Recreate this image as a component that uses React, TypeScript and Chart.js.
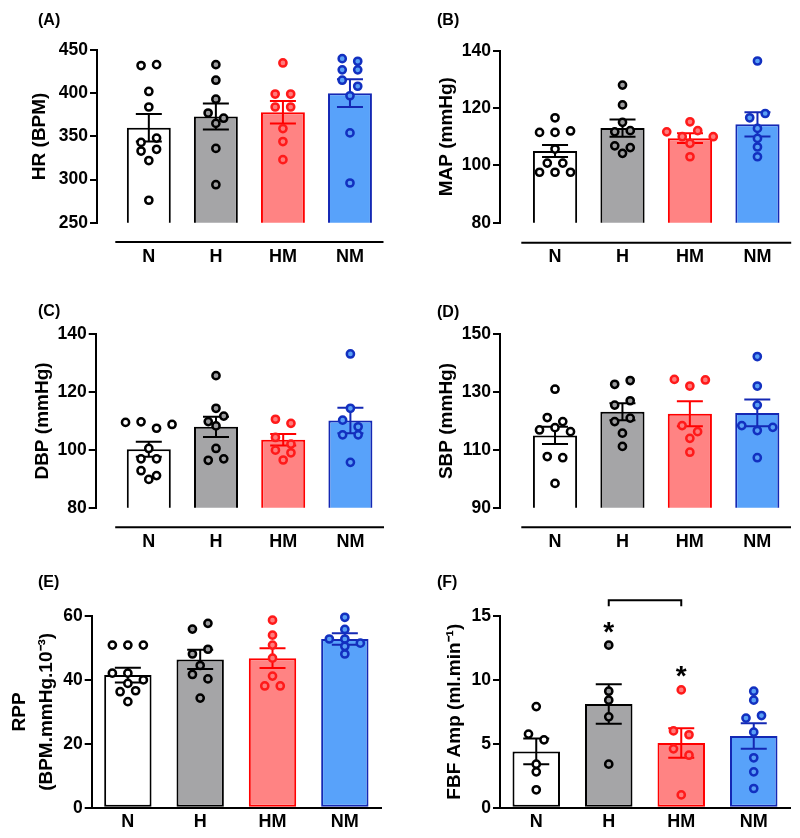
import React, { useEffect, useRef } from "react";
import { Chart, registerables } from "chart.js";

Chart.register(...registerables);

const FONT = "'Liberation Sans', Arial, Helvetica, sans-serif";

const groups = ["N", "H", "HM", "NM"];

// (A) HR
const hrN = [432, 433, 402, 384, 343, 348, 333, 335, 322, 276];
const hrH = [433, 415, 393, 377, 371, 365, 336, 294];
const hrHM = [435, 399, 399, 384, 384, 359, 344, 323];
const hrNM = [440, 437, 427, 427, 415, 408, 397, 354, 296];
const hrMean = [360, 373, 378, 400];
const hrSem = [16, 15, 13, 16];
const hrTicks = [250, 300, 350, 400, 450];

// (B) MAP
const mapN = [116.6, 111.5, 111.5, 112, 105.7, 100.8, 100.8, 97.6, 97.6, 97.6];
const mapH = [128, 121.1, 115, 111.7, 112.1, 106.8, 106.2, 104.2];
const mapHM = [115.2, 111.7, 110, 112.1, 110, 107.7, 103];
const mapNM = [136.4, 116.6, 118.1, 112.9, 109.4, 106.4, 103];
const mapMean = [105, 113, 109.5, 114.3];
const mapSem = [2.1, 3, 1.7, 4.2];
const mapTicks = [80, 100, 120, 140];

// (C) DBP
const dbpN = [109.5, 109.7, 107.5, 108.8, 100.5, 96.9, 96.9, 92.8, 91.1, 89.8];
const dbpH = [125.7, 114.4, 109.8, 111.7, 108.3, 100.5, 96.4, 96.9];
const dbpHM = [110.6, 109.2, 104.3, 102, 99.9, 99, 96.5];
const dbpNM = [133.2, 114.4, 110.3, 108, 105.2, 105.2, 95.7];
const dbpMean = [100.2, 108, 103.5, 110.2];
const dbpSem = [2.6, 3.5, 2, 4.4];
const dbpTicks = [80, 100, 120, 140];

// (D) SBP
const sbpN = [131, 121.2, 119.8, 116.9, 117.7, 116.3, 107.7, 107.3, 98.4];
const sbpH = [132.7, 134, 125.5, 127, 119.8, 121, 115.8, 111.2];
const sbpHM = [134.4, 132.1, 134.2, 118.4, 114, 116.3, 109.2];
const sbpNM = [142.3, 132.1, 125.5, 118.4, 116.7, 117.8, 107.3];
const sbpMean = [115, 123.2, 122.5, 122.8];
const sbpSem = [3, 2.9, 4.3, 4.6];
const sbpTicks = [90, 110, 130, 150];

// (E) RPP
const rppN = [50.9, 50.9, 50.9, 42.1, 42.1, 40, 38.9, 36.3, 36.6, 33.2];
const rppH = [55.9, 57.7, 48.1, 49.6, 44.5, 41.7, 40.3, 34.3];
const rppHM = [58.7, 54, 50.9, 46.8, 41.2, 38.1, 38.1];
const rppNM = [59.6, 55.8, 52.8, 52.8, 51.5, 50.5, 48.1];
const rppMean = [41.5, 46.4, 46.8, 52.8];
const rppSem = [2.3, 3, 3.1, 1.8];
const rppTicks = [0, 20, 40, 60];

// (F) FBF Amp
const fbfN = [7.9, 5.75, 5.3, 3.4, 2.8, 1.4];
const fbfH = [12.7, 9.1, 8.4, 7.1, 3.4];
const fbfHM = [9.2, 6.0, 5.7, 4.6, 4.1, 1.0];
const fbfNM = [9.1, 8.4, 7.0, 7.2, 5.9, 3.9, 2.8, 1.5];
const fbfMean = [4.4, 8.1, 5.05, 5.6];
const fbfSem = [1.0, 1.55, 1.15, 1.0];
const fbfTicks = [0, 5, 10, 15];
const fbfStarGroups = [1, 2];
const fbfStarY = [14.3, 10.8];
const fbfBracketGroups = [1, 2];
const fbfBracketY = 16.2;

const fills = ["#ffffff", "#a5a5a7", "#ff8383", "#58a2fa"];
const edges = ["#000000", "#000000", "#ff0000", "#1428b4"];
const dotFills = ["#ffffff", "#9c9c9e", "#ff7b7b", "#5aa0f5"];
const dotEdges = ["#000000", "#000000", "#ff1a1a", "#1230c0"];

type Panel = {
  letter: string;
  title: string | string[];
  titleLH?: number;
  points: number[][];
  mean: number[];
  sem: number[];
  ticks: number[];
  box: { left: number; top: number; width: number; height: number };
  axisX: number;
  areaTop: number;
  areaBottom: number;
  areaRight: number;
  xStart: number;
  detachedY?: number;
  labelY: number;
  titleX: number;
  letterX: number;
  letterY: number;
  stars?: boolean;
};

const panels: Panel[] = [
  {
    letter: "(A)", title: "HR (BPM)", points: [hrN, hrH, hrHM, hrNM], mean: hrMean, sem: hrSem, ticks: hrTicks,
    box: { left: 0, top: 0, width: 400, height: 280 },
    axisX: 97, areaTop: 50, areaBottom: 222.7, areaRight: 383.5, xStart: 115.3, detachedY: 242,
    labelY: 256.7, titleX: 40, letterX: 38, letterY: 20,
  },
  {
    letter: "(B)", title: "MAP (mmHg)", points: [mapN, mapH, mapHM, mapNM], mean: mapMean, sem: mapSem, ticks: mapTicks,
    box: { left: 400, top: 0, width: 400, height: 280 },
    axisX: 100, areaTop: 50.7, areaBottom: 222.7, areaRight: 391.2, xStart: 121.3, detachedY: 242.7,
    labelY: 257, titleX: 46.7, letterX: 437, letterY: 20,
  },
  {
    letter: "(C)", title: "DBP (mmHg)", points: [dbpN, dbpH, dbpHM, dbpNM], mean: dbpMean, sem: dbpSem, ticks: dbpTicks,
    box: { left: 0, top: 280, width: 400, height: 280 },
    axisX: 95.7, areaTop: 54.3, areaBottom: 227.7, areaRight: 384, xStart: 115.2, detachedY: 247.3,
    labelY: 261.7, titleX: 42.5, letterX: 38, letterY: 311,
  },
  {
    letter: "(D)", title: "SBP (mmHg)", points: [sbpN, sbpH, sbpHM, sbpNM], mean: sbpMean, sem: sbpSem, ticks: sbpTicks,
    box: { left: 400, top: 280, width: 400, height: 280 },
    axisX: 100, areaTop: 54.3, areaBottom: 227.7, areaRight: 391, xStart: 121.3, detachedY: 247.3,
    labelY: 261.7, titleX: 46.7, letterX: 437, letterY: 312,
  },
  {
    letter: "(E)", title: ["RPP", "(BPM.mmHg.10\u207B\u00B3)"], titleLH: 27, points: [rppN, rppH, rppHM, rppNM], mean: rppMean, sem: rppSem, ticks: rppTicks,
    box: { left: 0, top: 560, width: 400, height: 278 },
    axisX: 91.7, areaTop: 56, areaBottom: 247.7, areaRight: 381, xStart: 91.7,
    labelY: 261.7, titleX: 20, letterX: 38, letterY: 582,
  },
  {
    letter: "(F)", title: "FBF Amp (ml.min\u207B\u00B9)", points: [fbfN, fbfH, fbfHM, fbfNM], mean: fbfMean, sem: fbfSem, ticks: fbfTicks,
    box: { left: 400, top: 560, width: 400, height: 278 },
    axisX: 100, areaTop: 55.7, areaBottom: 247.7, areaRight: 390, xStart: 100,
    labelY: 261.7, titleX: 55, letterX: 437, letterY: 582, stars: true,
  },
];

// Simple row-based beeswarm: points that would overlap vertically share a row and are spread horizontally.
function swarm(vals: number[], g: number, pxPerUnit: number, spacingPx: number) {
  const diamPx = 7;
  const stepPx = 15.5;
  const idx = vals.map((v, i) => ({ v, i })).sort((a, b) => b.v - a.v || a.i - b.i);
  const rows: { v: number; i: number }[][] = [];
  for (const it of idx) {
    const row = rows[rows.length - 1];
    if (row && (row[0].v - it.v) * pxPerUnit < diamPx) row.push(it);
    else rows.push([it]);
  }
  const out: { x: number; y: number }[] = [];
  rows.forEach((row) => {
    const r = [...row].sort((a, b) => a.i - b.i);
    r.forEach((it, j) => {
      out.push({ x: g + ((j - (r.length - 1) / 2) * stepPx) / spacingPx, y: it.v });
    });
  });
  return out;
}

function PanelChart({ p }: { p: Panel }) {
  const ref = useRef<HTMLCanvasElement>(null);
  useEffect(() => {
    const canvas = ref.current!;
    const W = p.box.width;
    const H = p.box.height;
    const area = p.areaRight - p.axisX;
    const f = (p.xStart - p.axisX) / area;
    const xMin = (-0.5 - 3.5 * f) / (1 - f);
    const spacingPx = area / (3.5 - xMin);
    const yMin = p.ticks[0];
    const yMax = p.ticks[p.ticks.length - 1];
    const step = p.ticks[1] - p.ticks[0];
    const pxPerUnit = (p.areaBottom - p.areaTop) / (yMax - yMin);
    const labelSize = 18;
    const titleSize = 19;
    const titleLH = p.titleLH ?? titleSize * 1.2;

    const scatterSets = p.points.map((vals, g) => ({
      type: "scatter" as const,
      data: swarm(vals, g, pxPerUnit, spacingPx),
      pointRadius: 3.6,
      pointHoverRadius: 3.6,
      pointBorderWidth: 2.5,
      pointBackgroundColor: dotFills[g],
      pointBorderColor: dotEdges[g],
      backgroundColor: dotFills[g],
      borderColor: dotEdges[g],
      showLine: false,
      clip: false as any,
      order: 0,
    }));

    const decor = {
      id: "decor",
      afterDatasetDraw(chart: any, args: any) {
        if (args.index !== 0) return;
        const { ctx } = chart;
        const xs = chart.scales.x;
        const ys = chart.scales.y;
        ctx.save();
        ctx.lineWidth = 2;
        p.mean.forEach((m, i) => {
          const px = xs.getPixelForValue(i);
          const top = ys.getPixelForValue(m + p.sem[i]);
          const bot = ys.getPixelForValue(m - p.sem[i]);
          ctx.strokeStyle = edges[i];
          ctx.beginPath();
          ctx.moveTo(px, top);
          ctx.lineTo(px, bot);
          ctx.moveTo(px - 13, top);
          ctx.lineTo(px + 13, top);
          ctx.moveTo(px - 13, bot);
          ctx.lineTo(px + 13, bot);
          ctx.stroke();
        });
        ctx.restore();
      },
      afterDraw(chart: any) {
        const { ctx } = chart;
        const xs = chart.scales.x;
        const ys = chart.scales.y;
        ctx.save();
        ctx.strokeStyle = "#000";
        ctx.fillStyle = "#000";
        ctx.lineWidth = 2;
        if (p.detachedY !== undefined) {
          ctx.beginPath();
          ctx.moveTo(xs.getPixelForValue(-0.5), p.detachedY);
          ctx.lineTo(xs.getPixelForValue(3.5), p.detachedY);
          ctx.stroke();
        }
        if (p.stars) {
          const by = ys.getPixelForValue(fbfBracketY);
          const bx1 = xs.getPixelForValue(fbfBracketGroups[0]);
          const bx2 = xs.getPixelForValue(fbfBracketGroups[1]);
          ctx.beginPath();
          ctx.moveTo(bx1, by + 6);
          ctx.lineTo(bx1, by);
          ctx.lineTo(bx2, by);
          ctx.lineTo(bx2, by + 6);
          ctx.stroke();
          ctx.font = `bold 28px ${FONT}`;
          ctx.textAlign = "center";
          ctx.textBaseline = "alphabetic";
          fbfStarGroups.forEach((g, k) => {
            ctx.fillText("*", xs.getPixelForValue(g), ys.getPixelForValue(fbfStarY[k]) + 16);
          });
        }
        ctx.restore();
      },
    };

    const chart = new Chart(canvas, {
      type: "bar",
      data: {
        datasets: [
          {
            type: "bar",
            data: p.mean.map((m, i) => ({ x: i, y: m })) as any,
            backgroundColor: fills,
            borderColor: edges,
            borderWidth: 2,
            borderSkipped: false,
            barPercentage: 0.655,
            categoryPercentage: 1,
            order: 1,
          } as any,
          ...(scatterSets as any[]),
        ],
      },
      options: {
        responsive: false,
        animation: false,
        devicePixelRatio: 1,
        events: [],
        layout: { padding: { left: 0, top: p.areaTop, right: W - p.areaRight, bottom: 0 } },
        plugins: { legend: { display: false }, tooltip: { enabled: false }, title: { display: false } },
        scales: {
          x: {
            type: "linear",
            min: xMin,
            max: 3.5,
            offset: false,
            grid: { display: false, drawTicks: false },
            border: { display: p.detachedY === undefined, color: "#000", width: 2 },
            afterBuildTicks: (s: any) => {
              s.ticks = groups.map((_, i) => ({ value: i }));
            },
            afterFit: (s: any) => {
              s.height = H - p.areaBottom;
            },
            ticks: {
              autoSkip: false,
              maxRotation: 0,
              minRotation: 0,
              color: "#000",
              padding: p.labelY - p.areaBottom - labelSize * 0.6,
              font: { family: FONT, size: labelSize, weight: "bold" },
              callback: (v: any) => groups[Math.round(Number(v))] ?? "",
            },
          },
          y: {
            type: "linear",
            min: yMin,
            max: yMax,
            ticks: {
              stepSize: step,
              color: "#000",
              padding: 2,
              font: { family: FONT, size: 17.5, weight: "bold" },
            },
            grid: { drawOnChartArea: false, drawTicks: true, tickLength: 7, color: "#000", lineWidth: 2 },
            border: { display: true, color: "#000", width: 2 },
            title: {
              display: true,
              text: p.title,
              color: "#000",
              font: { family: FONT, size: titleSize, weight: "bold", lineHeight: titleLH / titleSize },
              padding: { top: p.titleX - titleLH / 2, bottom: 0 },
            },
            afterFit: (s: any) => {
              s.width = p.axisX;
            },
          },
        },
      } as any,
      plugins: [decor],
    });
    return () => chart.destroy();
  }, []);
  return (
    <canvas
      ref={ref}
      width={p.box.width}
      height={p.box.height}
      style={{
        position: "absolute",
        left: p.box.left,
        top: p.box.top,
        width: p.box.width,
        height: p.box.height,
        display: "block",
      }}
    />
  );
}

export default function App() {
  return (
    <div style={{ position: "absolute", left: 0, top: 0, width: 800, height: 838, background: "#fff", overflow: "hidden" }}>
      {panels.map((p) => (
        <PanelChart key={p.letter} p={p} />
      ))}
      {panels.map((p) => (
        <div
          key={"l" + p.letter}
          style={{
            position: "absolute",
            left: p.letterX,
            top: p.letterY - 9,
            font: `bold 16px ${FONT}`,
            lineHeight: "18px",
            color: "#000",
            whiteSpace: "nowrap",
          }}
        >
          {p.letter}
        </div>
      ))}
    </div>
  );
}
